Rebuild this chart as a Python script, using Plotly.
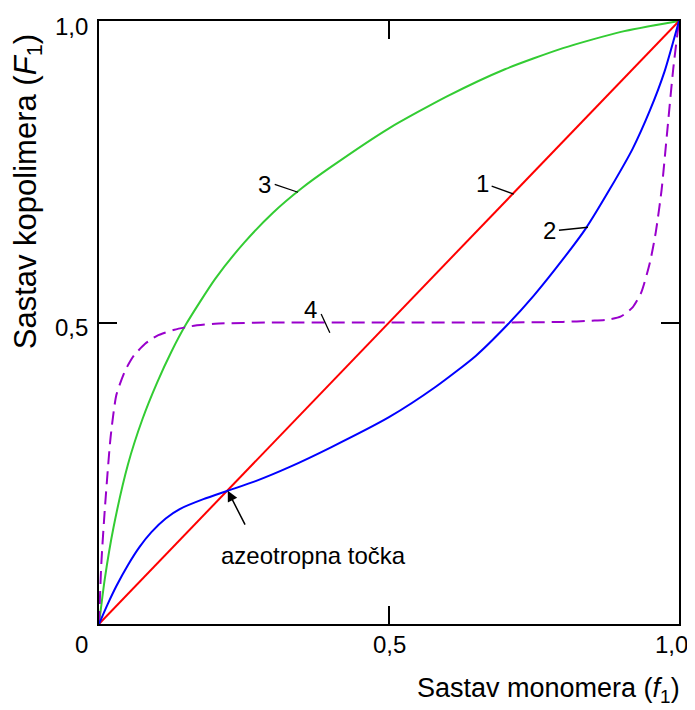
import plotly.graph_objects as go

# Curve 1: ideal (diagonal)
f_line1 = [0.0, 1.0]
F_line1 = [0.0, 1.0]

# Curve 2: azeotropic copolymerization
f_curve2 = [0.0, 0.015, 0.03, 0.05, 0.07, 0.09, 0.115, 0.14, 0.18, 0.222, 0.27, 0.33, 0.4, 0.5,
            0.58, 0.65, 0.705, 0.75, 0.8, 0.84, 0.88, 0.92, 0.95, 0.975, 1.0]
F_curve2 = [0.0, 0.033, 0.063, 0.098, 0.128, 0.152, 0.175, 0.191, 0.207, 0.221, 0.237, 0.261, 0.293,
            0.343, 0.393, 0.445, 0.497, 0.545, 0.605, 0.657, 0.72, 0.788, 0.852, 0.916, 1.0]

# Curve 3: F1 > f1
f_curve3 = [0.0, 0.01, 0.025, 0.05, 0.075, 0.1, 0.125, 0.15, 0.2, 0.25, 0.3, 0.35, 0.4, 0.5, 0.6,
            0.7, 0.8, 0.9, 1.0]
F_curve3 = [0.0, 0.075, 0.16, 0.265, 0.34, 0.4, 0.452, 0.497, 0.572, 0.632, 0.682, 0.723, 0.758,
            0.822, 0.875, 0.92, 0.955, 0.982, 1.0]

# Curve 4: alternating tendency (dashed)
f_curve4 = [0.0, 0.004, 0.01, 0.02, 0.03, 0.045, 0.06, 0.08, 0.1, 0.13, 0.16, 0.2, 0.3, 0.5, 0.7,
            0.8, 0.85, 0.88, 0.9, 0.92, 0.935, 0.95, 0.96, 0.97, 0.98, 0.99, 1.0]
F_curve4 = [0.0, 0.10, 0.19, 0.31, 0.38, 0.42, 0.445, 0.465, 0.478, 0.488, 0.494, 0.498, 0.5, 0.5,
            0.5, 0.501, 0.503, 0.505, 0.51, 0.525, 0.55, 0.6, 0.65, 0.72, 0.82, 0.92, 1.0]

# Tick labels
x_tick_vals = [0.0, 0.5, 1.0]
x_tick_text = ["0", "0,5", "1,0"]
y_tick_vals = [0.5, 1.0]
y_tick_text = ["0,5", "1,0"]

# Curve labels: (label, text x, text y, leader start x, y, leader end x, y)
curve_labels = [
    ("1", 0.661, 0.731, 0.677, 0.726, 0.715, 0.713),
    ("2", 0.776, 0.653, 0.793, 0.653, 0.843, 0.658),
    ("3", 0.286, 0.729, 0.303, 0.729, 0.343, 0.716),
    ("4", 0.364, 0.522, 0.383, 0.514, 0.398, 0.483),
]
azeo_f = 0.222
azeo_F = 0.221
azeo_tail = (0.257, 0.155)

FONT = "Liberation Sans, Arial, sans-serif"

fig = go.Figure()
fig.add_trace(go.Scatter(x=f_curve3, y=F_curve3, mode="lines",
                         line=dict(color="#33cc33", width=2, shape="spline", smoothing=0.6)))
fig.add_trace(go.Scatter(x=f_curve4, y=F_curve4, mode="lines",
                         line=dict(color="#9900cc", width=2, dash="13px,7px", shape="spline", smoothing=0.6)))
fig.add_trace(go.Scatter(x=f_line1, y=F_line1, mode="lines", line=dict(color="#ff0000", width=2)))
fig.add_trace(go.Scatter(x=f_curve2, y=F_curve2, mode="lines",
                         line=dict(color="#0000ff", width=2, shape="spline", smoothing=0.6)))

for lab, tx, ty, x0, y0, x1, y1 in curve_labels:
    fig.add_annotation(x=tx, y=ty, text=lab, showarrow=False, font=dict(size=24, color="black", family=FONT))
    fig.add_shape(type="line", x0=x0, y0=y0, x1=x1, y1=y1, line=dict(color="black", width=1.3))

fig.add_annotation(x=azeo_f, y=azeo_F, ax=azeo_tail[0], ay=azeo_tail[1], axref="x", ayref="y", text=" ",
                   showarrow=True, arrowhead=2, arrowsize=1.4, arrowwidth=1.5, arrowcolor="black",
                   font=dict(size=10))
fig.add_annotation(x=0.369, y=0.114, text="azeotropna točka", showarrow=False,
                   font=dict(size=24, color="black", family=FONT))

# tick labels
for v, t in zip(x_tick_vals, x_tick_text):
    xs = -18 if v == 0 else (-8 if v == 1.0 else 0)
    fig.add_annotation(x=v, y=0, xref="x", yref="y", text=t, showarrow=False, yanchor="top", yshift=-5,
                       xshift=xs, font=dict(size=24, color="black", family=FONT))
for v, t in zip(y_tick_vals, y_tick_text):
    fig.add_annotation(x=0, y=v, xref="x", yref="y", text=t, showarrow=False, xanchor="right", xshift=-9,
                       yshift=-5, font=dict(size=24, color="black", family=FONT))

fig.add_annotation(x=1.006, y=-0.109, xref="paper", yref="paper", text="Sastav monomera (<i>f</i><sub>1</sub>)",
                   showarrow=False, xanchor="right", yanchor="middle",
                   font=dict(size=27, color="black", family=FONT))
fig.add_annotation(x=-0.1224, y=0.716, xref="paper", yref="paper", text="Sastav kopolimera (<i>F</i><sub>1</sub>)",
                   showarrow=False, textangle=-90, xanchor="center", yanchor="middle",
                   font=dict(size=31, color="black", family=FONT))

axis_common = dict(range=[0, 1], showgrid=False, zeroline=False, showline=True, linecolor="black",
                   linewidth=2, mirror="ticks", ticks="inside", ticklen=18, tickwidth=2,
                   tickcolor="black", tickvals=[0.5], showticklabels=False, fixedrange=True)
fig.update_layout(
    width=687, height=702,
    margin=dict(l=91, r=16, t=11, b=86),
    plot_bgcolor="white", paper_bgcolor="white",
    showlegend=False,
    xaxis=axis_common,
    yaxis=axis_common,
    font=dict(family=FONT),
)
fig.write_html("out.html")
